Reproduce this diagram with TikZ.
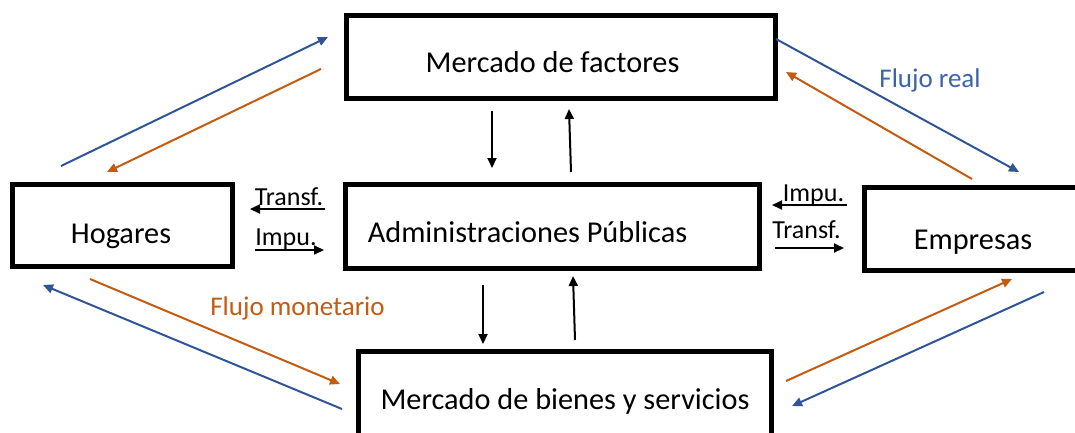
\documentclass[tikz,border=0pt]{standalone}
\usepackage{fontspec}
\setmainfont{Carlito}
\usetikzlibrary{arrows.meta}
\definecolor{fblue}{HTML}{2F5597}
\definecolor{forange}{HTML}{C55A11}
\definecolor{tblue}{HTML}{3B63AD}
\begin{document}
\begin{tikzpicture}[x=1pt,y=-1pt,
  box/.style={draw=black,line width=5pt,rectangle,inner sep=0pt,outer sep=0pt},
  lbl/.style={font=\fontsize{30.3}{34}\selectfont,anchor=base,inner sep=0pt},
  slbl/.style={font=\fontsize{26}{30}\selectfont,anchor=base,inner sep=0pt},
  flbl/.style={font=\fontsize{27}{31}\selectfont,anchor=base,inner sep=0pt},
  barrow/.style={draw=fblue,line width=2pt,-{Triangle[length=10pt,width=9pt]}},
  oarrow/.style={draw=forange,line width=2pt,-{Triangle[length=10pt,width=9pt]}},
  karrow/.style={draw=black,line width=2pt,-{Triangle[length=10pt,width=9pt]}}]
\useasboundingbox (0,0) rectangle (1075,432);
\clip (0,0) rectangle (1075,432);
% boxes
\node[box,minimum width=429pt,minimum height=82.5pt] (fact) at (560.5,56.75) {};
\node[box,minimum width=220pt,minimum height=82pt] (hog) at (122.5,225.25) {};
\node[box,minimum width=413.5pt,minimum height=83.5pt] (adm) at (552.25,226.25) {};
\node[box,minimum width=226pt,minimum height=83pt] (emp) at (977.5,229) {};
\node[box,minimum width=412.5pt,minimum height=100pt] (bien) at (564.75,401) {};
% texts
\node[lbl] (tfact) at (552.5,72) {Mercado de factores};
\node[lbl] (thog) at (121,243) {Hogares};
\node[lbl] (tadm) at (527.5,242) {Administraciones Públicas};
\node[lbl] (temp) at (973,249) {Empresas};
\node[lbl] (tbien) at (565,409) {Mercado de bienes y servicios};
\node[slbl] (tr1) at (289,205) {Transf.};
\node[slbl] (im1) at (286,245) {Impu.};
\node[slbl] (im2) at (813.5,201) {Impu.};
\node[slbl] (tr2) at (806.5,238) {Transf.};
\node[flbl,text=tblue] (freal) at (930,87) {Flujo real};
\node[flbl,text=forange] (fmon) at (297.5,315) {Flujo monetario};
% arrow end points
\coordinate (a1s) at (61,166);   \coordinate (a1e) at (328,37);
\coordinate (a2s) at (321,69);   \coordinate (a2e) at (107,172);
\coordinate (a3s) at (776,39);   \coordinate (a3e) at (1019,172);
\coordinate (a4s) at (972,179);  \coordinate (a4e) at (786,72);
\coordinate (a5s) at (90,279);   \coordinate (a5e) at (340,384);
\coordinate (a6s) at (342,409);  \coordinate (a6e) at (43,285);
\coordinate (a7s) at (786,381);  \coordinate (a7e) at (1012,279);
\coordinate (a8s) at (1044,292); \coordinate (a8e) at (792,406);
\coordinate (v1s) at (492,111);  \coordinate (v1e) at (492,168);
\coordinate (v2s) at (571,172);  \coordinate (v2e) at (569,109);
\coordinate (v3s) at (483,285);  \coordinate (v3e) at (483,344);
\coordinate (v4s) at (575,340);  \coordinate (v4e) at (573,276);
\coordinate (h1s) at (325,209);  \coordinate (h1e) at (250,209);
\coordinate (h2s) at (255,250);  \coordinate (h2e) at (324,250);
\coordinate (h3s) at (847,205);  \coordinate (h3e) at (772,205);
\coordinate (h4s) at (775,248);  \coordinate (h4e) at (844,248);
% arrows
\draw[barrow] (a1s) -- (a1e);
\draw[oarrow] (a2s) -- (a2e);
\draw[barrow] (a3s) -- (a3e);
\draw[oarrow] (a4s) -- (a4e);
\draw[oarrow] (a5s) -- (a5e);
\draw[barrow] (a6s) -- (a6e);
\draw[oarrow] (a7s) -- (a7e);
\draw[barrow] (a8s) -- (a8e);
\draw[karrow] (v1s) -- (v1e);
\draw[karrow] (v2s) -- (v2e);
\draw[karrow] (v3s) -- (v3e);
\draw[karrow] (v4s) -- (v4e);
\draw[karrow] (h1s) -- (h1e);
\draw[karrow] (h2s) -- (h2e);
\draw[karrow] (h3s) -- (h3e);
\draw[karrow] (h4s) -- (h4e);
\end{tikzpicture}
\end{document}
